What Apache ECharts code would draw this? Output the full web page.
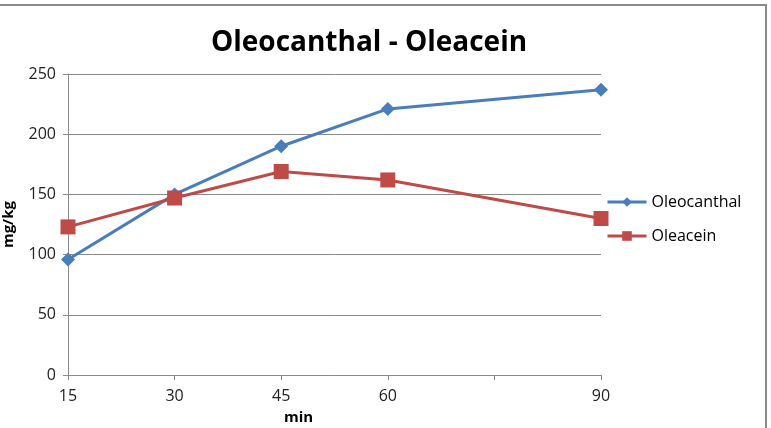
<!DOCTYPE html>
<html><head><meta charset="utf-8">
<script src="https://cdn.jsdelivr.net/npm/echarts@6/dist/echarts.min.js"></script>
<style>html,body{margin:0;padding:0;background:#fff;}#c{width:771px;height:428px;position:relative;}
#bt{position:absolute;left:0;top:4px;width:767px;height:0;border-top:2px solid #8a8a8a;}
#br{position:absolute;left:765px;top:4px;width:0;height:424px;border-left:2px solid #8a8a8a;}
</style></head>
<body><div id="c"></div><div id="bt"></div><div id="br"></div>
<script>
var xValues = [15, 30, 45, 60, 90];
var oleocanthal = [96, 150, 190, 221, 237];
var oleacein = [123, 147, 169, 162, 130];
var hiddenTicks = [75];
var chart = echarts.init(document.getElementById('c'));
function pairs(v){return xValues.map(function(x,i){return [x,v[i]];});}
chart.setOption({
  animation:false,
  title:{text:'Oleocanthal - Oleacein',left:364,top:24,textAlign:'center',
    textStyle:{fontFamily:'Open Sans',fontWeight:'bold',fontSize:28,color:'#000'}},
  grid:{left:68,right:170,top:74,bottom:53,outerBoundsMode:'none',containLabel:false},
  legend:{orient:'vertical',left:601,top:189,itemWidth:39,itemHeight:12,itemGap:18,
    lineStyle:{width:3},
    textStyle:{fontFamily:'Open Sans',fontSize:16,color:'#000'},
    data:['Oleocanthal','Oleacein']},
  xAxis:{type:'value',min:15,max:90,interval:15,name:'min',nameLocation:'middle',nameGap:35,
    nameTextStyle:{fontFamily:'Open Sans',fontWeight:'bold',fontSize:15,color:'#000',padding:[0,72,0,0]},
    axisLine:{lineStyle:{color:'#8a8a8a',width:1}},axisTick:{show:true,length:5,lineStyle:{color:'#8a8a8a'}},
    splitLine:{show:false},
    axisLabel:{fontFamily:'Open Sans',fontSize:16,color:'#222',margin:13,
      formatter:function(v){return hiddenTicks.indexOf(v)>=0?'':String(v);}}},
  yAxis:{type:'value',min:0,max:250,interval:50,name:'mg/kg',nameLocation:'middle',nameGap:52,nameRotate:90,
    nameTextStyle:{fontFamily:'Open Sans',fontWeight:'bold',fontSize:15,color:'#000'},
    axisLine:{show:true,lineStyle:{color:'#8a8a8a',width:1}},axisTick:{show:true,length:5,lineStyle:{color:'#8a8a8a'}},
    splitLine:{lineStyle:{color:'#8a8a8a',width:1}},
    axisLabel:{fontFamily:'Open Sans',fontSize:16,color:'#222',margin:12}},
  series:[
    {name:'Oleocanthal',type:'line',data:pairs(oleocanthal),symbol:'diamond',symbolSize:14,
      lineStyle:{color:'#4a7ebb',width:3},itemStyle:{color:'#4a7ebb'}},
    {name:'Oleacein',type:'line',data:pairs(oleacein),symbol:'rect',symbolSize:15,
      lineStyle:{color:'#be4b48',width:3},itemStyle:{color:'#be4b48'}}
  ]
});
</script></body></html>
